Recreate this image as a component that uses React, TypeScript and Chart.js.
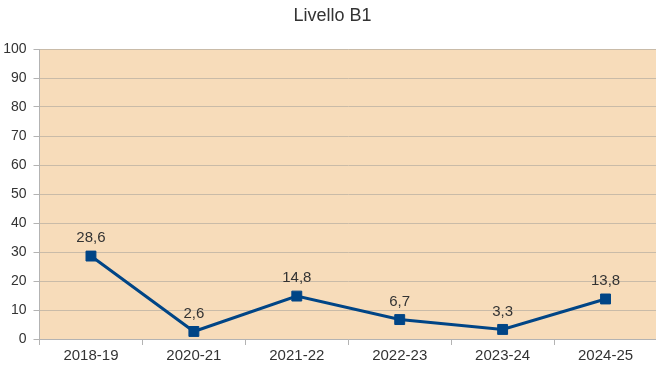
import React, { useEffect, useRef } from "react";
import { Chart, registerables } from "chart.js";

Chart.register(...registerables);

const title = "Livello B1";
const categories = ["2018-19", "2020-21", "2021-22", "2022-23", "2023-24", "2024-25"];
const values = [28.6, 2.6, 14.8, 6.7, 3.3, 13.8];
const yMin = 0;
const yMax = 100;
const yStep = 10;

const FONT = "'Liberation Sans', Arial, sans-serif";

export default function App() {
  const ref = useRef<HTMLCanvasElement>(null);
  useEffect(() => {
    document.body.style.margin = "0";
    const canvas = ref.current!;
    const bgPlugin = {
      id: "bg",
      beforeDraw(chart: any) {
        const { ctx, chartArea } = chart;
        ctx.save();
        ctx.fillStyle = "#F7DCBA";
        ctx.fillRect(chartArea.left, chartArea.top, chartArea.right - chartArea.left, chartArea.bottom - chartArea.top);
        ctx.restore();
      },
    };
    const titlePlugin = {
      id: "ttl",
      afterDraw(chart: any) {
        const { ctx } = chart;
        ctx.save();
        ctx.fillStyle = "#333";
        ctx.font = `18px ${FONT}`;
        ctx.textAlign = "center";
        ctx.textBaseline = "middle";
        ctx.fillText(title, chart.width / 2, 16);
        ctx.restore();
      },
    };
    const labelPlugin = {
      id: "lbl",
      afterDatasetsDraw(chart: any) {
        const { ctx } = chart;
        const meta = chart.getDatasetMeta(0);
        ctx.save();
        ctx.fillStyle = "#333";
        ctx.font = `15px ${FONT}`;
        ctx.textAlign = "center";
        ctx.textBaseline = "middle";
        meta.data.forEach((pt: any, i: number) => {
          ctx.fillText(String(values[i]).replace(".", ","), pt.x, pt.y - 18);
        });
        ctx.restore();
      },
    };
    const chart = new Chart(canvas, {
      type: "line",
      data: {
        labels: categories,
        datasets: [
          {
            data: values,
            borderColor: "#004586",
            backgroundColor: "#004586",
            borderWidth: 3,
            pointStyle: "rect",
            pointRadius: 7,
            pointBorderWidth: 1,
            pointBorderColor: "#004586",
            pointBackgroundColor: "#004586",
            tension: 0,
          },
        ],
      },
      options: {
        responsive: false,
        animation: false,
        layout: { padding: { top: 49, left: 0, right: 0, bottom: 0 } },
        plugins: { legend: { display: false }, tooltip: { enabled: false }, title: { display: false } },
        scales: {
          x: {
            offset: true,
            grid: {
              offset: true,
              drawOnChartArea: false,
              drawTicks: true,
              tickLength: 6,
              color: "#B3B3B3",
            },
            border: { color: "#B3B3B3" },
            ticks: { color: "#333", font: { family: FONT, size: 15 }, padding: 2, maxRotation: 0 },
            afterFit(scale: any) {
              scale.height = 32;
            },
          },
          y: {
            min: yMin,
            max: yMax,
            ticks: { stepSize: yStep, color: "#333", font: { family: FONT, size: 14 }, padding: 7 },
            grid: { color: "#C9BBA8", tickColor: "#B3B3B3", tickLength: 6 },
            border: { color: "#B3B3B3" },
            afterFit(scale: any) {
              scale.width = 39.5;
            },
          },
        },
      },
      plugins: [bgPlugin, titlePlugin, labelPlugin],
    });
    return () => chart.destroy();
  }, []);
  return (
    <div style={{ position: "fixed", left: 0, top: 0, width: 656, height: 371, overflow: "hidden", background: "#fff" }}>
      <canvas ref={ref} width={665} height={371} style={{ display: "block" }} />
    </div>
  );
}
